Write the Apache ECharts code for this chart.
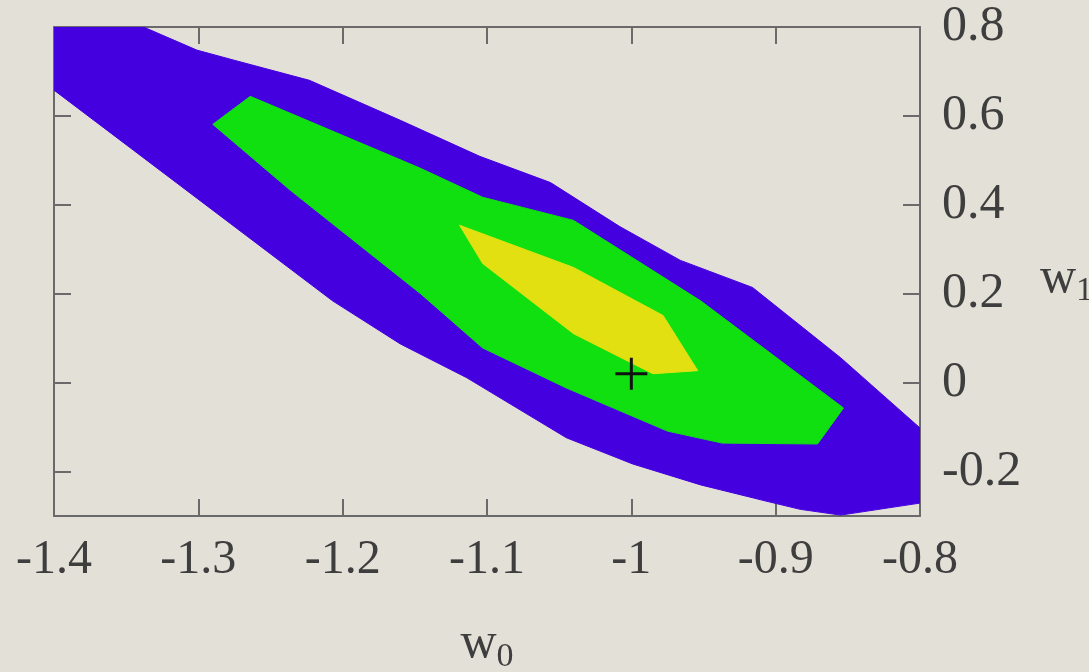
<!DOCTYPE html>
<html>
<head>
<meta charset="utf-8">
<style>
html,body{margin:0;padding:0;background:#e2e0d7;}
#chart{width:1089px;height:672px;}
</style>
<script src="https://cdn.jsdelivr.net/npm/echarts@6/dist/echarts.min.js"></script>
</head>
<body>
<div id="chart"></div>
<script>
// Axis ranges and tick labels
const xTicks = [-1.4, -1.3, -1.2, -1.1, -1.0, -0.9, -0.8];
const yTicks = [-0.2, 0, 0.2, 0.4, 0.6, 0.8];
const xRange = [-1.4, -0.8];
const yRange = [-0.3, 0.8];

// Contour regions (w0, w1) vertices
const outerRegion = [
  [-1.4, 0.8], [-1.338, 0.8], [-1.301, 0.748], [-1.276, 0.726], [-1.223, 0.680],
  [-1.160, 0.590], [-1.105, 0.509], [-1.056, 0.450], [-1.008, 0.351], [-0.966, 0.275],
  [-0.916, 0.214], [-0.855, 0.056], [-0.8, -0.102], [-0.8, -0.271], [-0.855, -0.298],
  [-0.883, -0.285], [-0.906, -0.267], [-0.952, -0.230], [-0.999, -0.183], [-1.045, -0.124],
  [-1.114, 0.011], [-1.160, 0.087], [-1.207, 0.184], [-1.345, 0.523], [-1.4, 0.658]
];
const middleRegion = [
  [-1.264, 0.644], [-1.146, 0.482], [-1.103, 0.417], [-1.040, 0.365], [-0.952, 0.184],
  [-0.853, -0.057], [-0.871, -0.138], [-0.937, -0.136], [-0.975, -0.109], [-1.045, -0.012],
  [-1.103, 0.078], [-1.146, 0.200], [-1.236, 0.432], [-1.290, 0.581]
];
const innerRegion = [
  [-1.119, 0.354], [-1.040, 0.259], [-0.978, 0.151], [-0.954, 0.027], [-0.985, 0.020],
  [-1.040, 0.110], [-1.103, 0.268]
];
const truePoint = [[-1.0, 0.02]];

const chart = echarts.init(document.getElementById('chart'), null, {renderer: 'canvas'});

function polygonSeries(pts, color) {
  return {
    type: 'custom',
    xAxisIndex: 0, yAxisIndex: 0,
    clip: true,
    silent: true,
    data: pts,
    renderItem: function (params, api) {
      if (params.dataIndex !== 0) return;
      const points = pts.map(p => api.coord(p));
      return {
        type: 'polygon',
        shape: {points: points},
        style: {fill: color, stroke: color, lineWidth: 1}
      };
    }
  };
}

const fontFamily = '"Liberation Serif", "DejaVu Serif", serif';
const textColor = '#3e3e3e';
const axisColor = '#6a6a6a';

const baseAxis = {
  type: 'value',
  splitLine: {show: false},
  axisLine: {show: true, onZero: false, lineStyle: {color: axisColor, width: 2}},
  axisTick: {show: true, inside: true, length: 17, lineStyle: {color: axisColor, width: 2}}
};

const nameRich = function () {
  return {
    w: {fontFamily: fontFamily, fontSize: 50, color: textColor},
    s: {fontFamily: fontFamily, fontSize: 34, color: textColor, verticalAlign: 'bottom', padding: [26, 0, 0, 0]}
  };
};

const option = {
  backgroundColor: '#e2e0d7',
  animation: false,
  grid: {left: 54, right: 169, top: 27, bottom: 156, outerBoundsMode: 'none', containLabel: false},
  xAxis: [
    Object.assign({}, baseAxis, {
      position: 'bottom',
      min: xRange[0], max: xRange[1], interval: 0.1,
      axisLabel: {
        show: true, margin: 20, color: textColor, fontFamily: fontFamily, fontSize: 48,
        formatter: v => String(Math.round(v * 10) / 10)
      },
      name: '{w|w}{s|0}',
      nameLocation: 'middle',
      nameGap: 98,
      nameTextStyle: {rich: nameRich()}
    }),
    Object.assign({}, baseAxis, {
      position: 'top',
      min: xRange[0], max: xRange[1], interval: 0.1,
      axisLabel: {show: false}
    })
  ],
  yAxis: [
    Object.assign({}, baseAxis, {
      position: 'right',
      min: yRange[0], max: yRange[1],
      axisTick: Object.assign({}, baseAxis.axisTick, {customValues: yTicks}),
      axisLabel: {
        show: true, margin: 22, color: textColor, fontFamily: fontFamily, fontSize: 50,
        padding: [7, 0, 0, 0],
        customValues: yTicks,
        formatter: v => String(Math.round(v * 10) / 10)
      },
      name: '{w|w}{s|1}',
      nameLocation: 'middle',
      nameRotate: 0,
      nameGap: 120,
      nameTextStyle: {align: 'left', padding: [14, 0, 0, 0], rich: nameRich()}
    }),
    Object.assign({}, baseAxis, {
      position: 'left',
      min: yRange[0], max: yRange[1],
      axisTick: Object.assign({}, baseAxis.axisTick, {customValues: yTicks}),
      axisLabel: {show: false}
    })
  ],
  series: [
    polygonSeries(outerRegion, '#4500e0'),
    polygonSeries(middleRegion, '#10e010'),
    polygonSeries(innerRegion, '#e2e010'),
    {
      type: 'custom',
      xAxisIndex: 0, yAxisIndex: 0,
      silent: true,
      data: truePoint,
      renderItem: function (params, api) {
        const c = api.coord([api.value(0), api.value(1)]);
        const h = 16;
        return {
          type: 'group',
          children: [
            {type: 'line', shape: {x1: c[0] - h, y1: c[1], x2: c[0] + h, y2: c[1]}, style: {stroke: '#111', lineWidth: 3}},
            {type: 'line', shape: {x1: c[0], y1: c[1] - h, x2: c[0], y2: c[1] + h}, style: {stroke: '#111', lineWidth: 3}}
          ]
        };
      }
    }
  ]
};
chart.setOption(option);
</script>
</body>
</html>
